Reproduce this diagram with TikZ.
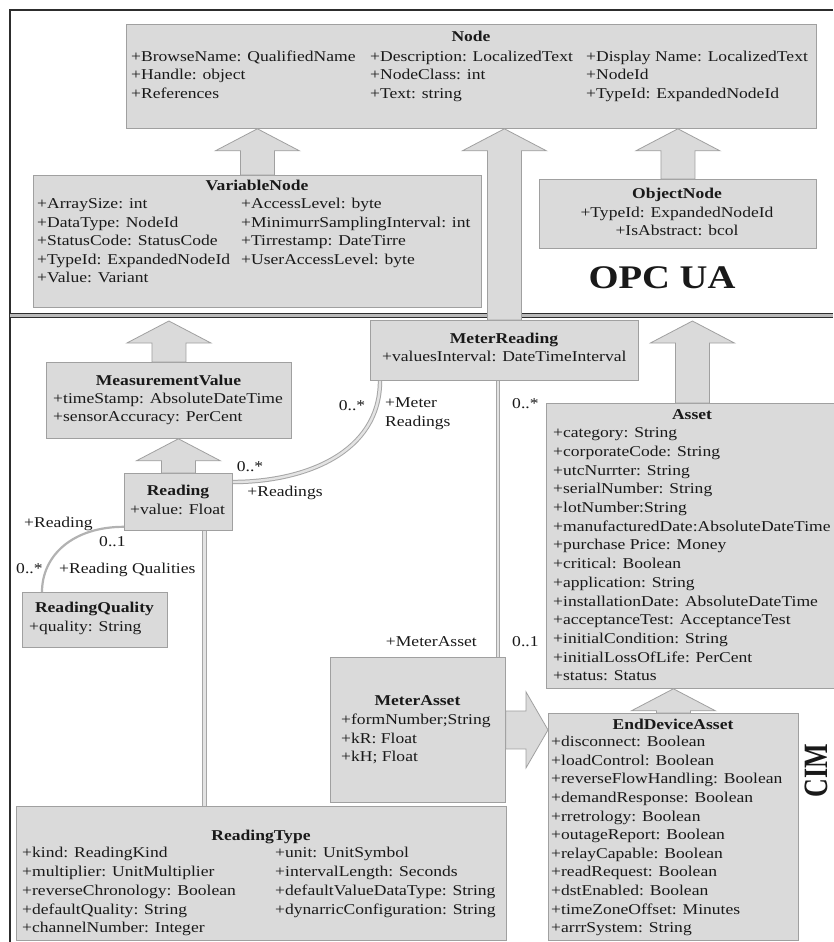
\documentclass[tikz,border=0pt]{standalone}
\usepackage{fontspec}
\setmainfont{Liberation Serif}
\usetikzlibrary{calc}
\definecolor{boxfill}{RGB}{218,218,218}
\definecolor{boxline}{RGB}{160,160,160}
\definecolor{frameline}{RGB}{45,45,45}
\definecolor{txt}{RGB}{25,25,25}
\tikzset{
	cls/.style={draw=boxline, fill=boxfill, line width=0.8pt, anchor=north west, inner sep=0pt},
	attr/.style={font=\fontsize{15}{18}\selectfont, text=txt, inner sep=0pt, xscale=1.17, anchor=west, text height=10.5pt, text depth=3pt},
	ttl/.style={attr, font=\fontsize{15}{18}\selectfont\bfseries, anchor=center},
	inh/.style={draw=boxline, fill=boxfill, line width=0.8pt},
	assoc/.style={draw=gray!70, double=gray!22, line width=1pt, double distance=2.4pt},
	assocthin/.style={draw=gray!60, line width=2.2pt},
	frame/.style={draw=frameline, line width=1.4pt},
	sep/.style={draw=frameline, double=gray!55, line width=1.6pt, double distance=2.4pt}
}

\begin{document}
\begin{tikzpicture}[x=1pt,y=-1pt]
	\newcommand{\inhup}[2]{
		\draw[inh] ($(#1)+(-17,0)$) -- ($(#2)+(-17,22)$) -- ($(#2)+(-42,22)$) -- (#2)
			-- ($(#2)+(42,22)$) -- ($(#2)+(17,22)$) -- ($(#1)+(17,0)$) -- cycle;
	}\newcommand{\inhright}[2]{
		\draw[inh] ($(#1)+(0,-19)$) -- ($(#2)+(-22,-19)$) -- ($(#2)+(-22,-38)$) -- (#2)
			-- ($(#2)+(-22,38)$) -- ($(#2)+(-22,19)$) -- ($(#1)+(0,19)$) -- cycle;
	}%Page and frame
	\fill[white] (0,0) rectangle (833,942);
	\useasboundingbox (0,0) rectangle (833,942);
	\coordinate (frameTL) at (10,10);
	\coordinate (frameTR) at (833,10);
	\coordinate (frameBL) at (10,942);
	\draw[frame] (frameTR) -- (frameTL) -- (frameBL);
	%Border between OPC UA and CIM
	\coordinate (sepL) at (10,315.5);
	\coordinate (sepR) at (833,315.5);
	\draw[sep] (sepL) -- (sepR);
	\coordinate (seplow) at (0,321);
	%Class boxes
	\node[cls, minimum width=690pt, minimum height=104pt] (node) at (126,24) {};
	\node[cls, minimum width=448pt, minimum height=132pt] (varnode) at (33,175) {};
	\node[cls, minimum width=277pt, minimum height=69pt] (objnode) at (539,179) {};
	\node[cls, minimum width=268pt, minimum height=60pt] (meterreading) at (370,320) {};
	\node[cls, minimum width=245pt, minimum height=76pt] (measvalue) at (46,362) {};
	\node[cls, minimum width=108pt, minimum height=57pt] (reading) at (124,473) {};
	\node[cls, minimum width=145pt, minimum height=55pt] (readingquality) at (22,592) {};
	\node[cls, minimum width=292pt, minimum height=285pt] (asset) at (546,403) {};
	\node[cls, minimum width=175pt, minimum height=145pt] (meterasset) at (330,657) {};
	\node[cls, minimum width=250pt, minimum height=227pt] (enddevice) at (548,713) {};
	\node[cls, minimum width=490pt, minimum height=134pt] (readingtype) at (16,806) {};
	%Generalisations
	\coordinate (tipVar) at (varnode.north |- node.south);
	\coordinate (tipMR) at (meterreading.north |- node.south);
	\coordinate (tipObj) at (objnode.north |- node.south);
	\coordinate (tipMV) at (measvalue.north |- seplow);
	\coordinate (tipRd) at (reading.north |- measvalue.south);
	\coordinate (tipAs) at (asset.north |- seplow);
	\coordinate (tipED) at (enddevice.north |- asset.south);
	\coordinate (tipMA) at (meterasset.east -| enddevice.west);
	\inhup{varnode.north}{tipVar}
	\inhup{meterreading.north}{tipMR}
	\inhup{objnode.north}{tipObj}
	\inhup{measvalue.north}{tipMV}
	\inhup{reading.north}{tipRd}
	\inhup{asset.north}{tipAs}
	\inhup{enddevice.north}{tipED}
	\inhright{meterasset.east}{tipMA}
	%Associations
	\coordinate (mrFoot) at ($(meterreading.south west)+(10,0)$);
	\coordinate (rdSide) at ($(reading.north east)+(0,9)$);
	\draw[assoc] (mrFoot) .. controls +(0,72) and +(72,0) .. (rdSide);
	\coordinate (rdLeft) at ($(reading.south west)+(0,-4)$);
	\coordinate (rqTop) at ($(readingquality.north west)+(20,0)$);
	\draw[assocthin] (rdLeft) .. controls +(-52,0) and +(0,-36) .. (rqTop);
	\coordinate (rdFoot) at ($(reading.south)+(26,0)$);
	\draw[assoc] (rdFoot) -- (rdFoot |- readingtype.north);
	\coordinate (maTop) at ($(meterasset.north east)+(-8,0)$);
	\draw[assoc] (maTop) -- (maTop |- meterreading.south);
	%Node
	\node[ttl] (nodeT) at (471,38) {Node};
	\node[attr] (node11) at (131,57.5) {+BrowseName: QualifiedName};
	\node[attr] (node21) at (131,76) {+Handle: object};
	\node[attr] (node31) at (131,94.5) {+References};
	\node[attr] (node12) at (370,57.5) {+Description: LocalizedText};
	\node[attr] (node22) at (370,76) {+NodeClass: int};
	\node[attr] (node32) at (370,94.5) {+Text: string};
	\node[attr] (node13) at (586,57.5) {+Display Name: LocalizedText};
	\node[attr] (node23) at (586,76) {+NodeId};
	\node[attr] (node33) at (586,94.5) {+TypeId: ExpandedNodeId};
	%VariableNode
	\node[ttl] (varT) at (257,187) {VariableNode};
	\foreach \t [count=\i] in {+ArraySize: int, +DataType: NodeId, +StatusCode: StatusCode, +TypeId: ExpandedNodeId, +Value: Variant}
		\node[attr] (varA\i) at (37,{186.5+18.5*\i}) {\t};
	\foreach \t [count=\i] in {+AccessLevel: byte, +MinimurrSamplingInterval: int, +Tirrestamp: DateTirre, +UserAccessLevel: byte}
		\node[attr] (varB\i) at (241,{186.5+18.5*\i}) {\t};
	%ObjectNode
	\node[ttl] (objT) at (677,195) {ObjectNode};
	\node[attr, anchor=center] (obj1) at (677,214) {+TypeId: ExpandedNodeId};
	\node[attr, anchor=center] (obj2) at (677,232) {+IsAbstract: bcol};
	\node[ttl, font=\fontsize{33}{36}\selectfont\bfseries, text height=23pt, text depth=0pt] (opcua) at (662,277) {OPC UA};
	%MeterReading
	\node[ttl] (mrT) at (504,340) {MeterReading};
	\node[attr] (mr1) at (382,358) {+valuesInterval: DateTimeInterval};
	%MeasurementValue
	\node[ttl] (mvT) at (168.5,382) {MeasurementValue};
	\node[attr] (mv1) at (53,400) {+timeStamp: AbsoluteDateTime};
	\node[attr] (mv2) at (53,418) {+sensorAccuracy: PerCent};
	%Reading
	\node[ttl] (rdT) at (178,492) {Reading};
	\node[attr] (rd1) at (130,511) {+value: Float};
	%ReadingQuality
	\node[ttl] (rqT) at (94.5,609) {ReadingQuality};
	\node[attr] (rq1) at (29,628) {+quality: String};
	%Asset
	\node[ttl] (asT) at (692,416) {Asset};
	\foreach \t [count=\i] in {+category: String, +corporateCode: String, +utcNurrter: String, +serialNumber: String, +lotNumber:String, +manufacturedDate:AbsoluteDateTime, +purchase Price: Money, +critical: Boolean, +application: String, +installationDate: AbsoluteDateTime, +acceptanceTest: AcceptanceTest, +initialCondition: String, +initialLossOfLife: PerCent, +status: Status}
		\node[attr] (asA\i) at (553,{415.3+18.7*\i}) {\t};
	%MeterAsset
	\node[ttl] (maT) at (417.5,702) {MeterAsset};
	\foreach \t [count=\i] in {+formNumber;String, +kR: Float, +kH; Float}
		\node[attr] (maA\i) at (341,{702.5+18.5*\i}) {\t};
	%EndDeviceAsset
	\node[ttl] (edT) at (673,726) {EndDeviceAsset};
	\foreach \t [count=\i] in {+disconnect: Boolean, +loadControl: Boolean, +reverseFlowHandling: Boolean, +demandResponse: Boolean, +rretrology: Boolean, +outageReport: Boolean, +relayCapable: Boolean, +readRequest: Boolean, +dstEnabled: Boolean, +timeZoneOffset: Minutes, +arrrSystem: String}
		\node[attr] (edA\i) at (551,{724.4+18.6*\i}) {\t};
	%ReadingType
	\node[ttl] (rtT) at (261,837) {ReadingType};
	\foreach \t [count=\i] in {+kind: ReadingKind, +multiplier: UnitMultiplier, +reverseChronology: Boolean, +defaultQuality: String, +channelNumber: Integer}
		\node[attr] (rtA\i) at (22,{835.2+18.8*\i}) {\t};
	\foreach \t [count=\i] in {+unit: UnitSymbol, +intervalLength: Seconds, +defaultValueDataType: String, +dynarricConfiguration: String}
		\node[attr] (rtB\i) at (275,{835.2+18.8*\i}) {\t};
	\node[ttl, font=\fontsize{26}{30}\selectfont\bfseries, text height=17pt, text depth=0pt, xscale=1, rotate=90, yscale=1.12] (cim) at (816,771) {CIM};
	%Role names and multiplicities
	\node[attr, anchor=center] (mulMR1) at (352,407) {0..*};
	\node[attr] (roleMR1) at (385,404) {+Meter};
	\node[attr] (roleMR2) at (385,423) {Readings};
	\node[attr] (mulMA1) at (512,405) {0..*};
	\node[attr, anchor=center] (mulRd1) at (250,468) {0..*};
	\node[attr, anchor=center] (roleRd1) at (285,493) {+Readings};
	\node[attr] (roleRq1) at (24,524) {+Reading};
	\node[attr] (mulRq1) at (99,543) {0..1};
	\node[attr] (mulRq2) at (16,570) {0..*};
	\node[attr] (roleRq2) at (59,570) {+Reading Qualities};
	\node[attr, anchor=east] (roleMA1) at (477,643) {+MeterAsset};
	\node[attr] (mulMA2) at (512,643) {0..1};
\end{tikzpicture}
\end{document}
